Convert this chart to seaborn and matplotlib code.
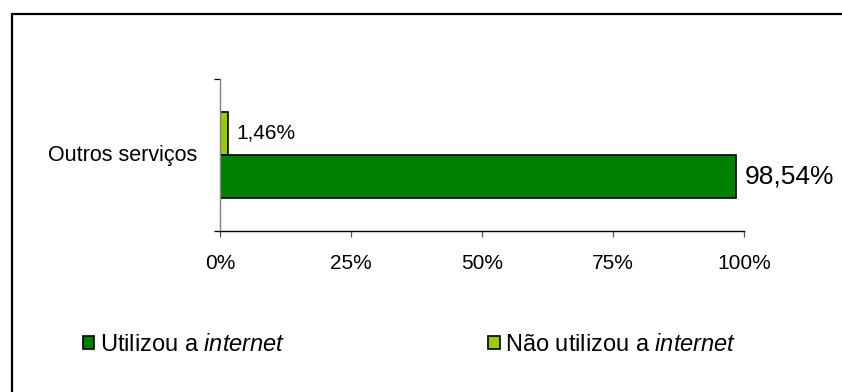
import matplotlib
matplotlib.use("Agg")
import matplotlib.pyplot as plt
from matplotlib.patches import Patch, Rectangle
import pandas as pd
import seaborn as sns

# Values (percent)
categories = ["Outros serviços"]
series = ["Não utilizou a internet", "Utilizou a internet"]
nao_utilizou = [1.46]
utilizou = [98.54]
x_ticks = [0, 25, 50, 75, 100]
x_tick_labels = ["0%", "25%", "50%", "75%", "100%"]

colors = {"Utilizou a internet": "#008000", "Não utilizou a internet": "#99CC00"}

df = pd.DataFrame({
    "categoria": categories * 2,
    "serie": [series[0]] * len(categories) + [series[1]] * len(categories),
    "valor": nao_utilizou + utilizou,
})

sns.set_theme(style="white")
plt.rcParams["font.family"] = ["Liberation Sans", "DejaVu Sans"]
plt.rcParams["mathtext.fontset"] = "custom"
plt.rcParams["mathtext.rm"] = "Liberation Sans"
plt.rcParams["mathtext.it"] = "Liberation Sans:italic"

W, H, DPI = 842, 392, 100
fig = plt.figure(figsize=(W / DPI, H / DPI), dpi=DPI)
fig.patch.set_facecolor("white")

# Outer chart frame
fig.add_artist(Rectangle((12 / W, -0.2), 1.2, 1.2 - 14 / H,
                         transform=fig.transFigure, fill=False,
                         edgecolor="black", linewidth=1.6))

ax = fig.add_axes([220 / W, 1 - 231 / H, (744 - 220) / W, (231 - 79) / H])

sns.barplot(data=df, x="valor", y="categoria", hue="serie", hue_order=series,
            palette=colors, saturation=1, orient="h", width=0.57,
            edgecolor="black", linewidth=1.2, legend=False, ax=ax)

ax.set_xlim(0, 100)
ax.set_ylim(0.5, -0.5)
ax.set_xlabel("")
ax.set_ylabel("")

ax.set_xticks(x_ticks)
ax.set_xticklabels(x_tick_labels)
ax.tick_params(axis="x", which="major", direction="out", length=4, width=0.9,
               color="#555555", pad=12.5, labelsize=15, labelcolor="black", bottom=True)

ax.set_yticks([0])
ax.set_yticklabels(categories)
ax.set_yticks([-0.5, 0.5], minor=True)
ax.tick_params(axis="y", which="major", length=0, pad=16.5, labelsize=15.5, labelcolor="black")
ax.tick_params(axis="y", which="minor", direction="out", length=4, width=0.9,
               color="black", left=True)
for lbl in ax.get_yticklabels():
    lbl.set_va("center")

for s in ["top", "right"]:
    ax.spines[s].set_visible(False)
ax.spines["left"].set_color("#808080")
ax.spines["left"].set_linewidth(1.0)
ax.spines["bottom"].set_color("black")
ax.spines["bottom"].set_linewidth(1.0)

# Value labels
for cont, vals, fs in zip(ax.containers, [nao_utilizou, utilizou], [15, 19]):
    for bar, v in zip(cont, vals):
        ax.annotate(f"{v:.2f}".replace(".", ",") + "%",
                    xy=(bar.get_width(), bar.get_y() + bar.get_height() / 2),
                    xytext=(6, 0), textcoords="offset points",
                    ha="left", va="center", fontsize=fs, color="black",
                    annotation_clip=False)

handles = [Patch(facecolor=colors["Utilizou a internet"], edgecolor="black", linewidth=1.2),
           Patch(facecolor=colors["Não utilizou a internet"], edgecolor="black", linewidth=1.2)]
labels = [r"Utilizou a $\it{internet}$", r"Não utilizou a $\it{internet}$"]
leg = fig.legend(handles, labels, ncol=2, loc="center left",
                 bbox_to_anchor=(83 / W, 1 - 345 / H), frameon=False,
                 fontsize=17, handlelength=0.47, handleheight=0.47,
                 handletextpad=0.25, columnspacing=8.6, borderaxespad=0, borderpad=0)
for t in leg.get_texts():
    t.set_color("black")

fig.savefig("out.png", dpi=DPI, facecolor="white")
